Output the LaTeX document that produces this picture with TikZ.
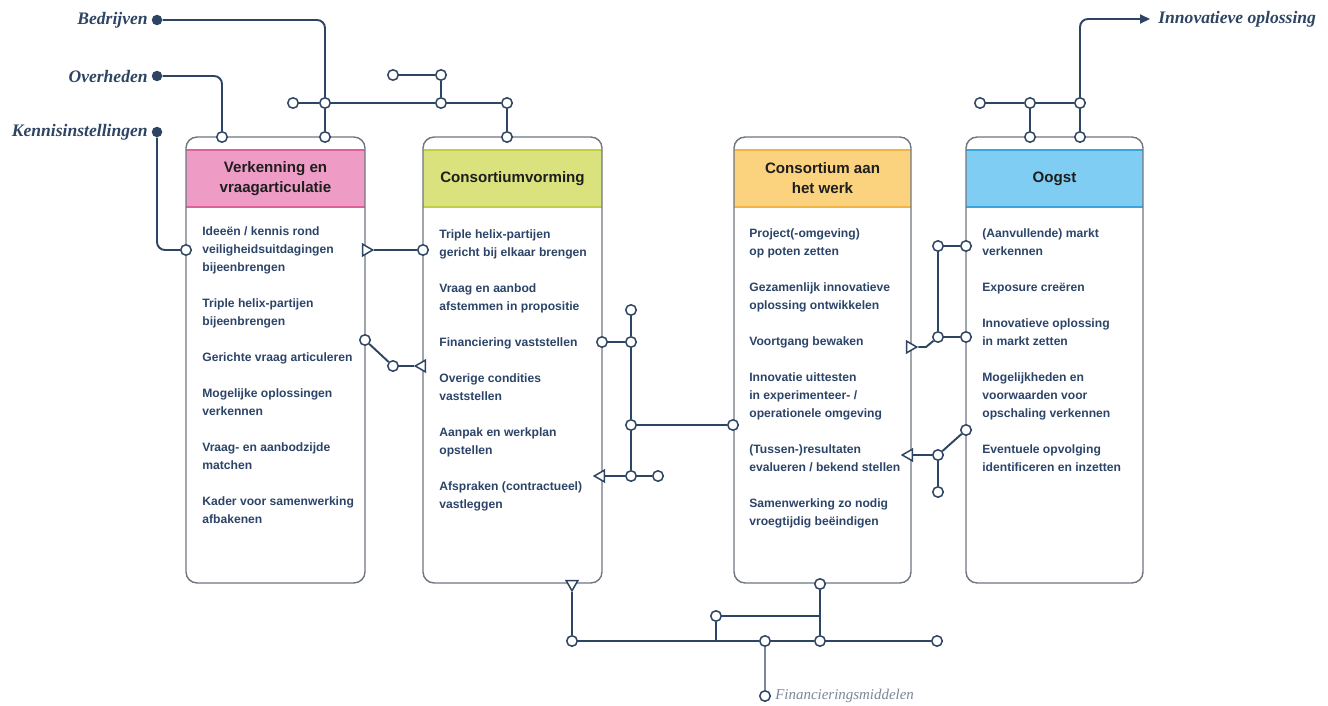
\documentclass[tikz,border=0pt]{standalone}
\usepackage{fontspec}
\setmainfont{Liberation Sans}
\newfontfamily\serieffont{Liberation Serif}
\usetikzlibrary{arrows.meta,shapes.geometric}

\definecolor{lijn}{HTML}{2E4463}
\definecolor{rand}{HTML}{6E7580}
\definecolor{tekst}{HTML}{2B4468}
\definecolor{koptekst}{HTML}{1E1E1E}
\definecolor{grijslijn}{HTML}{7A8699}
\definecolor{rozevlak}{HTML}{EE9CC6}
\definecolor{rozerand}{HTML}{E0609A}
\definecolor{groenvlak}{HTML}{D9E27C}
\definecolor{groenrand}{HTML}{C3CE45}
\definecolor{oranjevlak}{HTML}{FBD27E}
\definecolor{oranjerand}{HTML}{F2B445}
\definecolor{blauwvlak}{HTML}{7FCDF3}
\definecolor{blauwrand}{HTML}{37A7E0}

\tikzset{
  halte/.style={circle,draw=lijn,fill=white,line width=0.85pt,minimum size=0.21cm,inner sep=0pt},
  bron/.style={circle,fill=lijn,minimum size=0.21cm,inner sep=0pt},
  pijl/.style={regular polygon,regular polygon sides=3,draw=lijn,fill=white,line width=0.85pt,
    minimum size=0.27cm,inner sep=0pt,shape border rotate=#1},
  blok/.style={draw=rand,line width=0.8pt,rounded corners=0.22cm,minimum height=8.92cm,inner sep=0pt},
  kop/.style={minimum height=1.14cm,inner sep=0pt,align=center,text=koptekst,
    font=\fontsize{8.6}{11.4}\selectfont\bfseries},
  taak/.style={anchor=north west,inner sep=0pt,align=left,text=tekst,
    font=\fontsize{6.9}{10.24}\selectfont\bfseries},
  naam/.style={inner sep=0pt,text=lijn,font=\serieffont\fontsize{10}{12}\selectfont\bfseries\itshape},
  verbinding/.style={draw=lijn,line width=1.1pt},
}

\begin{document}
\begin{tikzpicture}[x=0.02cm,y=-0.02cm]
  \useasboundingbox (0,0) rectangle (1328,706);

  % koppen van de fasen
  \node[kop,fill=rozevlak,minimum width=3.58cm] (kop1) at (275.5,178.5) {Verkenning en\\vraagarticulatie};
  \node[kop,fill=groenvlak,minimum width=3.58cm] (kop2) at (512.5,178.5) {Consortiumvorming};
  \node[kop,fill=oranjevlak,minimum width=3.54cm] (kop3) at (822.5,178.5) {Consortium aan\\het werk};
  \node[kop,fill=blauwvlak,minimum width=3.54cm] (kop4) at (1054.5,178.5) {Oogst};
  \draw[rozerand,line width=1pt] (kop1.north west) -- (kop1.north east) (kop1.south west) -- (kop1.south east);
  \draw[groenrand,line width=1pt] (kop2.north west) -- (kop2.north east) (kop2.south west) -- (kop2.south east);
  \draw[oranjerand,line width=1pt] (kop3.north west) -- (kop3.north east) (kop3.south west) -- (kop3.south east);
  \draw[blauwrand,line width=1pt] (kop4.north west) -- (kop4.north east) (kop4.south west) -- (kop4.south east);

  % fasen
  \node[blok,minimum width=3.58cm] (fase1) at (275.5,360) {};
  \node[blok,minimum width=3.58cm] (fase2) at (512.5,360) {};
  \node[blok,minimum width=3.54cm] (fase3) at (822.5,360) {};
  \node[blok,minimum width=3.54cm] (fase4) at (1054.5,360) {};

  \node[taak] (taken1) at (202,226) {Ideeën / kennis rond\\veiligheidsuitdagingen\\bijeenbrengen\\[10.24pt]
    Triple helix-partijen\\bijeenbrengen\\[10.24pt]
    Gerichte vraag articuleren\\[10.24pt]
    Mogelijke oplossingen\\verkennen\\[10.24pt]
    Vraag- en aanbodzijde\\matchen\\[10.24pt]
    Kader voor samenwerking\\afbakenen};
  \node[taak] (taken2) at (439,229) {Triple helix-partijen\\gericht bij elkaar brengen\\[10.24pt]
    Vraag en aanbod\\afstemmen in propositie\\[10.24pt]
    Financiering vaststellen\\[10.24pt]
    Overige condities\\vaststellen\\[10.24pt]
    Aanpak en werkplan\\opstellen\\[10.24pt]
    Afspraken (contractueel)\\vastleggen};
  \node[taak] (taken3) at (749,228) {Project(-omgeving)\\op poten zetten\\[10.24pt]
    Gezamenlijk innovatieve\\oplossing ontwikkelen\\[10.24pt]
    Voortgang bewaken\\[10.24pt]
    Innovatie uittesten\\in experimenteer- /\\operationele omgeving\\[10.24pt]
    (Tussen-)resultaten\\evalueren / bekend stellen\\[10.24pt]
    Samenwerking zo nodig\\vroegtijdig beëindigen};
  \node[taak] (taken4) at (982,228) {(Aanvullende) markt\\verkennen\\[10.24pt]
    Exposure creëren\\[10.24pt]
    Innovatieve oplossing\\in markt zetten\\[10.24pt]
    Mogelijkheden en\\voorwaarden voor\\opschaling verkennen\\[10.24pt]
    Eventuele opvolging\\identificeren en inzetten};

  % bronnen en uitkomst
  \node[bron] (bedr) at (157,20) {};
  \node[bron] (overh) at (157,76) {};
  \node[bron] (kennis) at (157,132) {};
  \node[naam,anchor=east] (tbedr) at (148,20) {Bedrijven};
  \node[naam,anchor=east] (toverh) at (148,76) {Overheden};
  \node[naam,anchor=east] (tkennis) at (148,132) {Kennisinstellingen};
  \coordinate (uit) at (1150,19);
  \node[naam,anchor=west] (tuit) at (1158,19) {Innovatieve oplossing};

  % haltes
  \draw
    (222,137) node[halte] (a1){}
    (325,137) node[halte] (a2){}
    (325,103) node[halte] (a3){}
    (293,103) node[halte] (a4){}
    (441,103) node[halte] (a5){}
    (507,103) node[halte] (a6){}
    (441,75) node[halte] (a7){}
    (393,75) node[halte] (a8){}
    (507,137) node[halte] (a9){}
    (980,103) node[halte] (c1){}
    (1030,103) node[halte] (c2){}
    (1080,103) node[halte] (c3){}
    (1030,137) node[halte] (c4){}
    (1080,137) node[halte] (c5){}
    (186,250) node[halte] (k1){}
    (423,250) node[halte] (d1){}
    (365,340) node[halte] (d2){}
    (393,366) node[halte] (d3){}
    (602,342) node[halte] (e1){}
    (631,342) node[halte] (e2){}
    (631,310) node[halte] (e3){}
    (631,425) node[halte] (e4){}
    (733,425) node[halte] (e5){}
    (631,476) node[halte] (e6){}
    (658,476) node[halte] (e7){}
    (938,246) node[halte] (f1){}
    (966,246) node[halte] (f2){}
    (938,337) node[halte] (f3){}
    (966,337) node[halte] (f4){}
    (966,430) node[halte] (f5){}
    (938,455) node[halte] (f6){}
    (938,492) node[halte] (f7){}
    (572,641) node[halte] (g1){}
    (765,641) node[halte] (g2){}
    (820,641) node[halte] (g3){}
    (937,641) node[halte] (g4){}
    (820,584) node[halte] (g5){}
    (716,616) node[halte] (g6){}
    (765,696) node[halte] (g7){};
  \draw
    (366,250) node[pijl=-90] (p1){}
    (422,366) node[pijl=90] (p2){}
    (601,476) node[pijl=90] (p3){}
    (910,347) node[pijl=-90] (p4){}
    (909,455) node[pijl=90] (p5){}
    (572,584) node[pijl=180] (p6){};
  \coordinate (knik) at (926,347);
  \coordinate (j1) at (716,641);
  \coordinate (j2) at (820,616);
  \node[anchor=west,inner sep=0pt,text=grijslijn,font=\serieffont\fontsize{8.5}{10}\selectfont\itshape]
    (tfin) at (775,696) {Financieringsmiddelen};

  \begin{scope}[verbinding]
    \draw[rounded corners=0.16cm] (bedr) -| (a3);
    \draw[rounded corners=0.16cm] (overh) -| (a1);
    \draw[rounded corners=0.16cm] (kennis) |- (k1);
    \draw (a3) -- (a2);
    \draw (a4) -- (a3) -- (a5) -- (a6);
    \draw (a8) -- (a7) -- (a5);
    \draw (a6) -- (a9);
    \draw (c1) -- (c2) -- (c3);
    \draw (c2) -- (c4);
    \draw (c3) -- (c5);
    \draw[rounded corners=0.16cm,-{Triangle[length=0.2cm,width=0.18cm]}] (c3) |- (uit);
    \draw (p1) -- (d1);
    \draw (d2) -- (d3) -- (p2);
    \draw (e1) -- (e2);
    \draw (e3) -- (e2) -- (e4) -- (e6);
    \draw (e4) -- (e5);
    \draw (p3) -- (e6) -- (e7);
    \draw (f1) -- (f2);
    \draw (f1) -- (f3) -- (f4);
    \draw (p4) -- (knik) -- (f3);
    \draw (f5) -- (f6) -- (p5);
    \draw (f6) -- (f7);
    \draw (p6) -- (g1) -- (j1) -- (g2) -- (g3) -- (g4);
    \draw (g5) -- (j2) -- (g3);
    \draw (g6) -- (j2);
    \draw (g6) -- (j1);
    \draw[grijslijn,line width=0.7pt] (g2) -- (g7);
  \end{scope}
\end{tikzpicture}
\end{document}
